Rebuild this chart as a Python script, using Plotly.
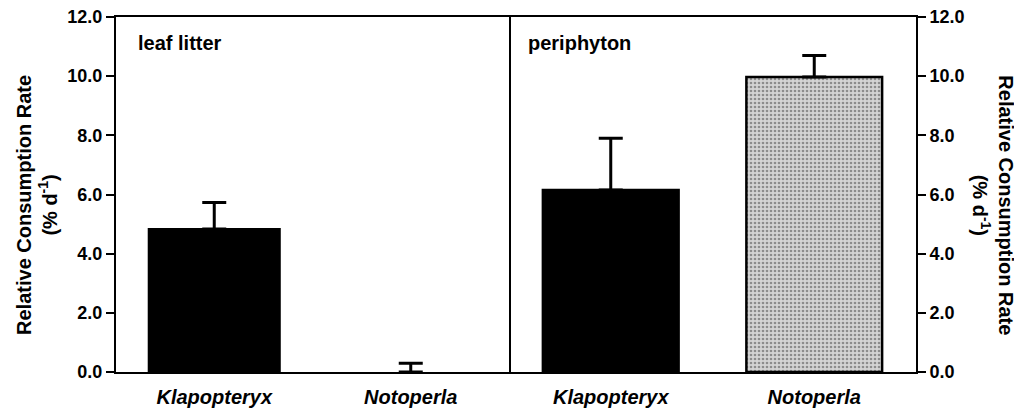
import plotly.graph_objects as go
from plotly.subplots import make_subplots

species = ["Klapopteryx", "Notoperla"]
leaf_values = [4.83, 0.0]
leaf_errors = [0.9, 0.3]
peri_values = [6.15, 9.97]
peri_errors = [1.75, 0.73]
panel_labels = ["leaf litter", "periphyton"]
y_ticks = [0, 2, 4, 6, 8, 10, 12]

FONT = "Liberation Sans, Arial, sans-serif"

fig = make_subplots(rows=1, cols=2, horizontal_spacing=0, column_widths=[393, 407])

cat_html = [f"<i>{s}</i>" for s in species]

fig.add_trace(go.Bar(
    x=cat_html, y=leaf_values,
    marker=dict(color=["black", "#cccccc"], line=dict(color="black", width=[2, 0])),
    error_y=dict(type="data", array=leaf_errors, arrayminus=[0, 0], symmetric=False,
                 color="black", thickness=3, width=12),
    showlegend=False), row=1, col=1)

fig.add_trace(go.Bar(
    x=cat_html, y=peri_values,
    marker=dict(color=["black", "#d4d4d4"], line=dict(color="black", width=2.5),
                pattern=dict(shape=["", "."], fgcolor="#909090", bgcolor="#dcdcdc",
                             size=4, solidity=0.35)),
    error_y=dict(type="data", array=peri_errors, arrayminus=[0, 0], symmetric=False,
                 color="black", thickness=3, width=12),
    showlegend=False), row=1, col=2)

fig.update_xaxes(showline=True, linecolor="black", linewidth=2, mirror=True,
                 showgrid=False, zeroline=False, ticks="outside", ticklen=6,
                 tickcolor="rgba(0,0,0,0)", automargin=False, ticklabeloverflow="allow",
                 tickfont=dict(family=FONT, size=20, color="black", weight="bold"))
yax = dict(range=[0, 12], tickvals=y_ticks, tickformat=".1f", showline=True,
           linecolor="black", linewidth=2, showgrid=False, zeroline=False,
           ticks="outside", ticklen=8, tickwidth=2, tickcolor="black", automargin=False,
           ticklabeloverflow="allow",
           tickfont=dict(family=FONT, size=18, color="black", weight="bold"))
fig.update_yaxes(**yax, mirror=True, row=1, col=1)
fig.update_yaxes(**yax, mirror=False, side="right", row=1, col=2)

fig.update_layout(
    width=1014, height=404,
    margin=dict(l=108, r=106, t=9, b=40, autoexpand=False),
    plot_bgcolor="white", paper_bgcolor="white",
    bargap=0.333,
    font=dict(family=FONT, color="black"),
)

fig.add_annotation(text=panel_labels[0], xref="x domain", yref="y domain", x=0.051, y=0.927,
                   xanchor="left", yanchor="middle", showarrow=False,
                   font=dict(family=FONT, size=20, weight="bold"))
fig.add_annotation(text=panel_labels[1], xref="x2 domain", yref="y2 domain", x=0.042, y=0.927,
                   xanchor="left", yanchor="middle", showarrow=False,
                   font=dict(family=FONT, size=20, weight="bold"))

title = "Relative Consumption Rate<br>(% d<sup>-1</sup>)"
fig.add_annotation(text=title, xref="paper", yref="paper", x=-0.099, y=0.47,
                   xanchor="center", yanchor="middle", textangle=-90, showarrow=False,
                   font=dict(family=FONT, size=20, weight="bold"))
fig.add_annotation(text=title, xref="paper", yref="paper", x=1.096, y=0.47,
                   xanchor="center", yanchor="middle", textangle=90, showarrow=False,
                   font=dict(family=FONT, size=20, weight="bold"))

fig.write_html("out.html")
